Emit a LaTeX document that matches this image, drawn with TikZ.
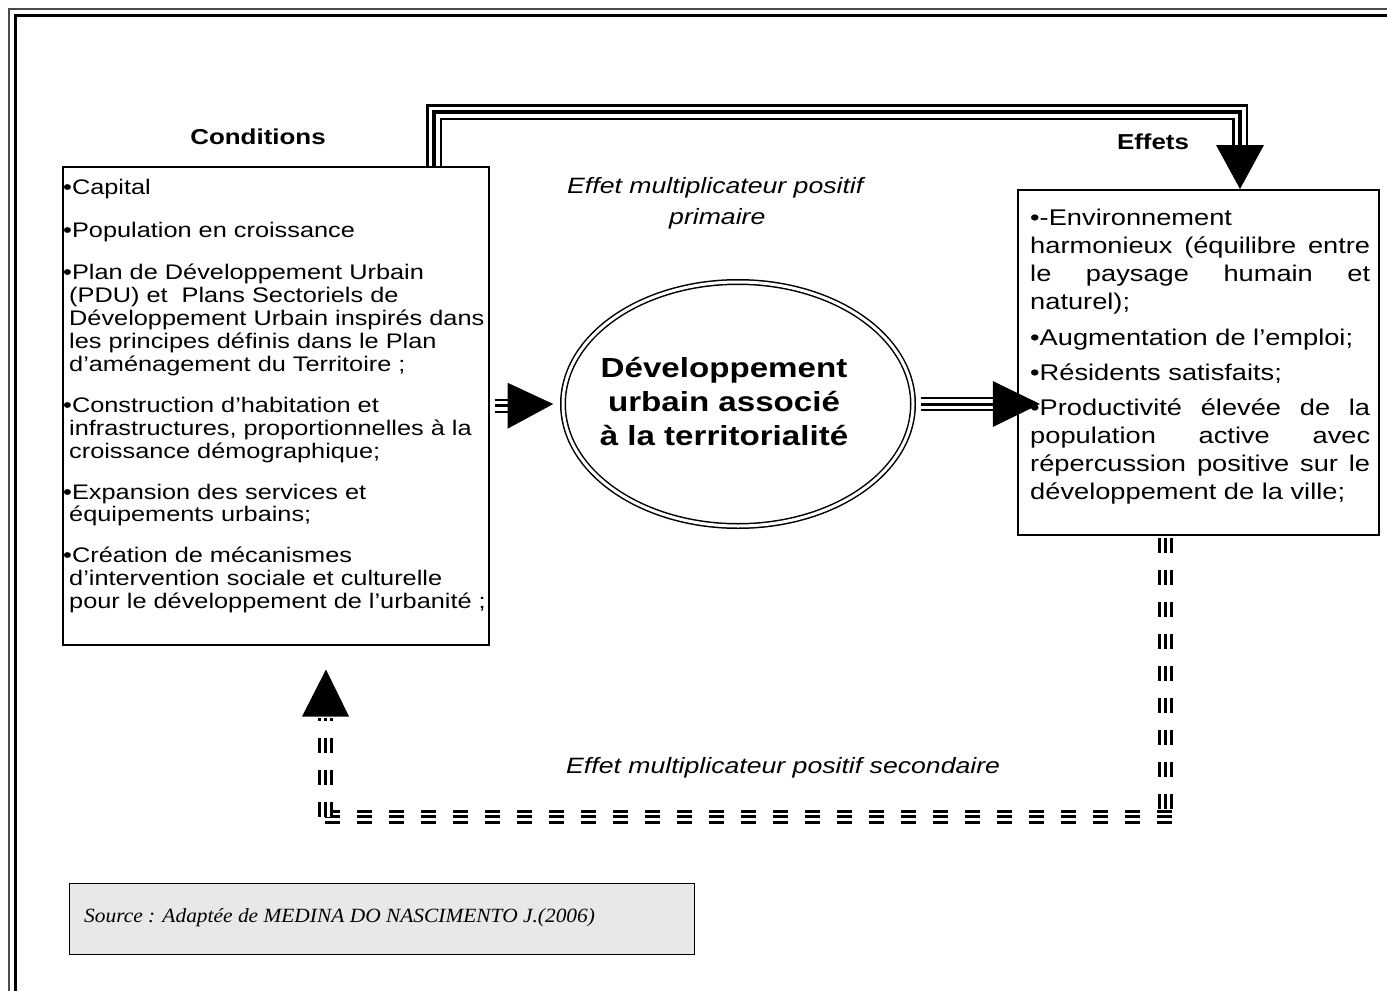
\documentclass[tikz,border=0pt]{standalone}
\usepackage{fontspec}
\setmainfont[FakeStretch=1.2]{Liberation Sans}
\newfontfamily\srcfont[FakeStretch=1.06]{Liberation Serif}
\usetikzlibrary{calc,shapes.geometric}
\definecolor{srcgray}{RGB}{232,232,232}
\begin{document}
\begin{tikzpicture}[x=1pt,y=-1pt,
  box/.style={draw, line width=1.5pt, inner sep=0pt, anchor=north west},
  ltxt/.style={anchor=base west, inner sep=0pt, font=\fontsize{21.1}{23}\selectfont},
  rtxt/.style={anchor=base west, inner sep=0pt, font=\fontsize{22.7}{28}\selectfont},
  ttl/.style={anchor=base, inner sep=0pt, font=\fontsize{21.6}{24}\selectfont\bfseries},
  etxt/.style={anchor=base, inner sep=0pt, font=\fontsize{27.6}{34}\selectfont\bfseries},
  itxt/.style={anchor=base west, inner sep=0pt, font=\fontsize{22.2}{25}\selectfont\itshape},
  trip/.style={line width=16pt, postaction={draw, white, line width=11pt}, postaction={draw, black, line width=4pt}},
  tripsmall/.style={line width=14pt, postaction={draw, white, line width=9.5pt}, postaction={draw, black, line width=3pt}},
  vdash/.style={line width=15pt, dash pattern=on 15pt off 17pt,
     postaction={draw, white, line width=9pt, dash pattern=on 15pt off 17pt},
     postaction={draw, black, line width=3pt, dash pattern=on 15pt off 17pt}},
  hdash/.style={line width=14pt, dash pattern=on 15pt off 17pt,
     postaction={draw, white, line width=8pt, dash pattern=on 15pt off 17pt},
     postaction={draw, black, line width=3.5pt, dash pattern=on 15pt off 17pt}}
]
\useasboundingbox (0,0) rectangle (1387,991);
% frame
\draw[line width=2pt, black!70] (1387,9) -- (9,9) -- (9,991);
\draw[line width=3pt] (1387,15.5) -- (15.5,15.5) -- (15.5,991);

% boxes
\node[box, minimum width=426pt, minimum height=478pt] (lbox) at (62,166) {};
\node[box, minimum width=361pt, minimum height=345pt] (rbox) at (1017,189) {};
\node[box, fill=srcgray, line width=1.2pt, minimum width=625pt, minimum height=71pt] (sbox) at (69,883) {};
\node[draw, ellipse, double, line width=1.5pt, double distance=3pt, minimum width=350pt, minimum height=244pt, inner sep=0pt] (ell) at (738,404) {};

% titles
\node[ttl] (cond) at (258,144) {Conditions};
\node[ttl] (eff) at (1153,149) {Effets};
\node[itxt] (m1) at (567,193) {Effet multiplicateur positif};
\node[itxt] (m2) at (669,224) {primaire};
\node[itxt] (m3) at (566,773) {Effet multiplicateur positif secondaire};
\node[anchor=base west, inner sep=0pt, font=\srcfont\fontsize{20.2}{22}\selectfont\itshape] (src) at (84,922) {Source : Adaptée de MEDINA DO NASCIMENTO J.(2006)};

% ellipse text
\node[etxt] (e1) at (724,377) {Développement};
\node[etxt] (e2) at (724,411) {urbain associé};
\node[etxt] (e3) at (724,445) {à la territorialité};

% left box text
\node[ltxt] (l1) at (63,194) {•Capital};
\node[ltxt] (l2) at (63,237) {•Population en croissance};
\node[ltxt] (l3) at (63,279) {•Plan de Développement Urbain};
\node[ltxt] (l4) at (69,302) {(PDU) et \ Plans Sectoriels de};
\node[ltxt] (l5) at (69,325) {Développement Urbain inspirés dans};
\node[ltxt] (l6) at (69,348) {les principes définis dans le Plan};
\node[ltxt] (l7) at (69,371) {d’aménagement du Territoire ;};
\node[ltxt] (l8) at (63,412) {•Construction d’habitation et};
\node[ltxt] (l9) at (69,435) {infrastructures, proportionnelles à la};
\node[ltxt] (l10) at (69,458) {croissance démographique;};
\node[ltxt] (l11) at (63,499) {•Expansion des services et};
\node[ltxt] (l12) at (69,521) {équipements urbains;};
\node[ltxt] (l13) at (63,562) {•Création de mécanismes};
\node[ltxt] (l14) at (69,585) {d’intervention sociale et culturelle};
\node[ltxt] (l15) at (69,608) {pour le développement de l’urbanité ;};

% right box text
\node[rtxt] (r1) at (1030,225) {•-Environnement};
\node[rtxt] (r2) at (1030,253) {\makebox[340pt][s]{harmonieux (équilibre entre}};
\node[rtxt] (r3) at (1030,281) {\makebox[340pt][s]{le paysage humain et}};
\node[rtxt] (r4) at (1030,309) {naturel);};
\node[rtxt] (r5) at (1030,345) {•Augmentation de l’emploi;};
\node[rtxt] (r6) at (1030,380) {•Résidents satisfaits;};
\node[rtxt] (r7) at (1030,415) {\makebox[340pt][s]{•Productivité élevée de la}};
\node[rtxt] (r8) at (1030,443) {\makebox[340pt][s]{population active avec}};
\node[rtxt] (r9) at (1030,471) {\makebox[340pt][s]{répercussion positive sur le}};
\node[rtxt] (r10) at (1030,499) {développement de la ville;};

% top connector: Conditions -> Effets
\coordinate (ta) at ($(lbox.north west)+(372,0)$);
\coordinate (tb) at ($(rbox.north west)+(223,-77)$);
\draw[trip] (ta) |- (tb) -- ++(0,34);
\fill ($(rbox.north west)+(199,-44)$) -- ($(rbox.north west)+(247,-44)$) -- ($(rbox.north west)+(223,0)$) -- cycle;

% left box -> ellipse
\draw[tripsmall] ($(lbox.east)+(5,0)$) -- ++(14,0);
\fill ($(lbox.east)+(18,-23)$) -- ($(lbox.east)+(18,23)$) -- ($(ell.west)+(-9,0)$) -- cycle;

% ellipse -> right box
\coordinate (rt) at (rbox.west |- ell.east);
\draw[tripsmall] ($(ell.east)+(7,0)$) -- ++(73,0);
\fill ($(ell.east)+(79,-23)$) -- ($(ell.east)+(79,23)$) -- ($(rt)+(23,0)$) -- cycle;

% dashed feedback
\coordinate (d1) at ($(rbox.south west)+(148,2)$);
\coordinate (d2) at ($(rbox.south west)+(148,281)$);
\coordinate (d3) at ($(lbox.south west)+(263,171)$);
\coordinate (d4) at ($(lbox.south west)+(263,72)$);
\draw[vdash] (d1) -- (d2);
\draw[hdash] (d3) -- ($(d2)+(7,0)$);
\draw[vdash] (d3) -- (d4);
\fill ($(lbox.south west)+(240,71)$) -- ($(lbox.south west)+(287,71)$) -- ($(lbox.south west)+(264,24)$) -- cycle;
\end{tikzpicture}
\end{document}
